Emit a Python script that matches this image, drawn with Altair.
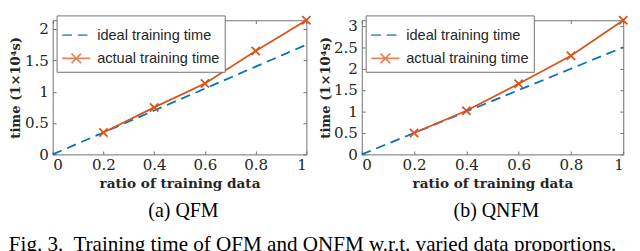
import altair as alt
import pandas as pd

# ---------------- data ----------------
ratio = [0.0, 0.2, 0.4, 0.6, 0.8, 1.0]
qfm_ideal = [0.0, 0.35, 0.70, 1.05, 1.40, 1.75]
qfm_actual = [None, 0.35, 0.75, 1.13, 1.65, 2.14]
qnfm_ideal = [0.0, 0.50, 1.00, 1.50, 2.00, 2.50]
qnfm_actual = [None, 0.50, 1.02, 1.65, 2.30, 3.13]

x_ticks = [0, 0.2, 0.4, 0.6, 0.8, 1]
qfm_yticks = [0, 0.5, 1, 1.5, 2]
qnfm_yticks = [0, 0.5, 1, 1.5, 2, 2.5, 3]
qfm_ymax = 2.14
qnfm_ymax = 3.13

series_names = ["ideal training time", "actual training time"]
captions = ["(a) QFM", "(b) QNFM"]
fig_caption = "Fig. 3.\u00a0 Training time of QFM and QNFM w.r.t. varied data proportions."
x_title = "ratio of training data"
y_title = "time (1×10⁴s)"

# ---------------- style ----------------
BLUE = "#0072BD"
ORANGE = "#D95319"
FRAME = "#6e6e6e"
TXT = "#262626"
TICKFONT = "DejaVu Serif"
CAPFONT = "Liberation Serif"
SANS = "Liberation Sans"
W1, W2, H = 261, 269, 138
LW = 1.8
DASH = [10, 6]

legend_paths = ["M-1,0L1,0",
                "M-1,0L1,0M-0.34,-0.34L0.34,0.34M-0.34,0.34L0.34,-0.34"]
marker_path = "M-1,-1L1,1M-1,1L1,-1"


def make_df(ideal, actual):
    rows = []
    for r, v in zip(ratio, ideal):
        rows.append({"ratio": r, "time": v, "series": series_names[0]})
    for r, v in zip(ratio, actual):
        if v is not None:
            rows.append({"ratio": r, "time": v, "series": series_names[1]})
    return pd.DataFrame(rows)


def panel(ideal, actual, yticks, ymax, caption, width):
    df = make_df(ideal, actual)
    xs = alt.Scale(domain=[0, 1], nice=False, zero=False)
    ys = alt.Scale(domain=[0, ymax], nice=False, zero=False)

    lab = dict(labelFont=TICKFONT, labelFontSize=15.5, labelColor=TXT,
               titleFont=TICKFONT, titleFontWeight="bold",
               titleColor=TXT, grid=False, domain=False)
    inward = dict(labels=False, title=None, grid=False, domain=False,
                  ticks=True, tickSize=3.5, tickColor=FRAME, tickWidth=1)

    base = alt.Chart(df)
    ideal_sel = alt.datum.series == series_names[0]
    actual_sel = alt.datum.series == series_names[1]

    # ideal line + main (labelled) axes
    l_ideal = base.transform_filter(ideal_sel).mark_line(
        color=BLUE, strokeWidth=LW, strokeDash=DASH
    ).encode(
        x=alt.X("ratio:Q", scale=xs,
                axis=alt.Axis(values=x_ticks, format="~g", title=x_title,
                              ticks=False, labelPadding=4, titlePadding=4,
                              titleFontSize=14, orient="bottom", **lab)),
        y=alt.Y("time:Q", scale=ys,
                axis=alt.Axis(values=yticks, format="~g", title=y_title,
                              ticks=False, labelPadding=4.5, titlePadding=1.5,
                              titleFontSize=13.5, orient="left", **lab)),
    )

    # actual line + inward ticks at bottom / left
    l_actual = base.transform_filter(actual_sel).mark_line(
        color=ORANGE, strokeWidth=LW
    ).encode(
        x=alt.X("ratio:Q", scale=xs,
                axis=alt.Axis(values=x_ticks, orient="top", offset=-H, **inward)),
        y=alt.Y("time:Q", scale=ys,
                axis=alt.Axis(values=yticks, orient="right", offset=-width, **inward)),
    )

    # actual markers + inward ticks at top / right
    pts = base.transform_filter(actual_sel).mark_point(
        shape=marker_path, size=72, filled=False, color=ORANGE,
        strokeWidth=LW, opacity=1
    ).encode(
        x=alt.X("ratio:Q", scale=xs,
                axis=alt.Axis(values=x_ticks, orient="bottom", offset=-H, **inward)),
        y=alt.Y("time:Q", scale=ys,
                axis=alt.Axis(values=yticks, orient="left", offset=-width, **inward)),
    )

    leg = alt.Legend(title=None, orient="none", legendX=4, legendY=-5,
                     strokeColor=FRAME, fillColor="white", padding=4.75,
                     cornerRadius=0, rowPadding=-2, labelFont=SANS,
                     labelFontSize=15, labelColor=TXT, labelOffset=6,
                     symbolSize=841, symbolStrokeWidth=LW, symbolFillColor="transparent")

    legend_layer = base.mark_point(size=0, filled=False, strokeWidth=LW).encode(
        x=alt.X("ratio:Q", scale=xs, axis=None),
        y=alt.Y("time:Q", scale=ys, axis=None),
        color=alt.Color("series:N", scale=alt.Scale(domain=series_names, range=[BLUE, ORANGE]), legend=leg),
        shape=alt.Shape("series:N", scale=alt.Scale(domain=series_names, range=legend_paths), legend=leg),
        strokeDash=alt.StrokeDash("series:N", scale=alt.Scale(domain=series_names, range=[DASH, [1, 0]]), legend=leg),
    )

    return alt.layer(l_ideal, l_actual, pts, legend_layer).resolve_axis(
        x="independent", y="independent"
    ).properties(
        width=width, height=H,
        title=alt.TitleParams(caption, orient="bottom", font=CAPFONT, fontSize=20.5,
                              fontWeight="normal", color="black", offset=11, dx=4),
    )


left = panel(qfm_ideal, qfm_actual, qfm_yticks, qfm_ymax, captions[0], W1)
right = panel(qnfm_ideal, qnfm_actual, qnfm_yticks, qnfm_ymax, captions[1], W2)

chart = alt.hconcat(left, right, spacing=2).resolve_legend(
    color="independent", shape="independent", strokeDash="independent"
).properties(
    title=alt.TitleParams(fig_caption, orient="bottom", anchor="start", font=CAPFONT,
                          fontSize=21.7, fontWeight="normal", color="black", offset=12.5),
    padding={"left": 0, "top": 0, "right": 0, "bottom": 0},
).configure_view(stroke=FRAME, strokeWidth=1)

chart.save("out.html", embed_options={"renderer": "svg", "actions": False})
